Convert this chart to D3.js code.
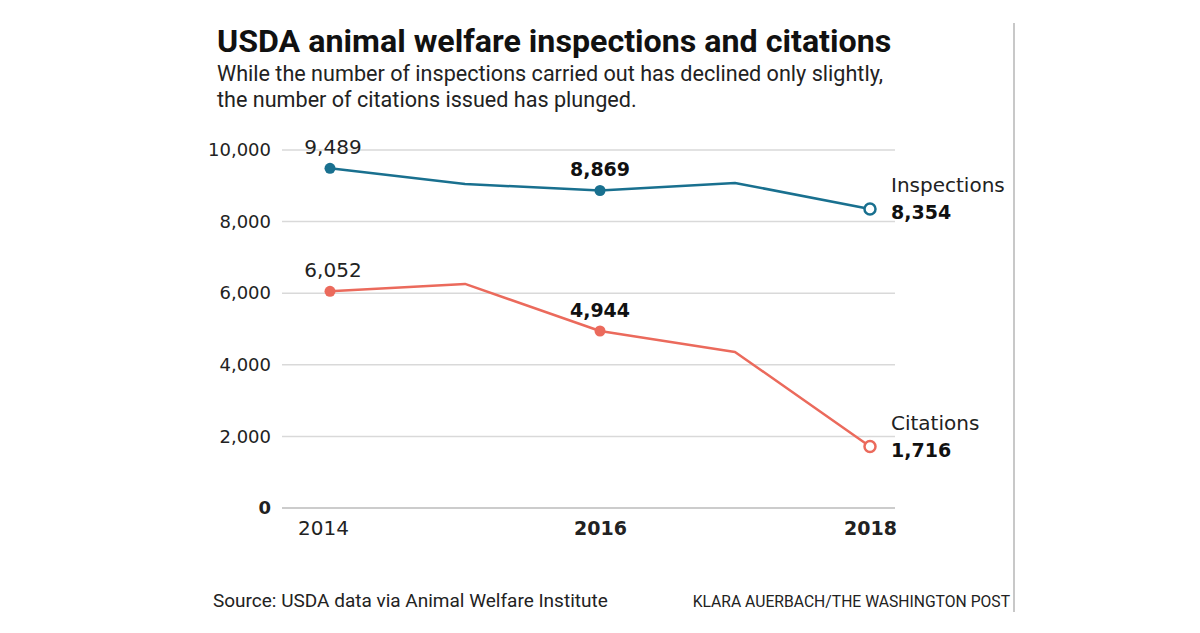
<!DOCTYPE html>
<html><head><meta charset="utf-8">
<script src="https://cdn.jsdelivr.net/npm/d3@7"></script>
<style>
html,body{margin:0;padding:0;background:#fff;}
svg{display:block;}
</style></head>
<body>
<script>
const years = [2014, 2015, 2016, 2017, 2018];
const inspections = [9489, 9050, 8869, 9080, 8354];
const citations = [6052, 6260, 4944, 4360, 1716];
const yTicks = [0, 2000, 4000, 6000, 8000, 10000];
const xTicks = [2014, 2016, 2018];
const seriesNames = ["Inspections", "Citations"];
const colors = ["#19708f", "#eb6a5c"];

const W = 1200, H = 633;
const svg = d3.select("body").append("svg").attr("width", W).attr("height", H);

const x = d3.scaleLinear().domain([2014, 2018]).range([330, 870]);
const y = d3.scaleLinear().domain([0, 10000]).range([508, 150]);

const head = "Roboto,'Liberation Sans',sans-serif";
const sans = "'DejaVu Sans',Verdana,sans-serif";

// title
svg.append("text").attr("x", 217).attr("y", 52).attr("font-family", head).attr("font-weight", "bold")
  .attr("font-size", 32.2).attr("fill", "#111").text("USDA animal welfare inspections and citations");
svg.append("text").attr("x", 217).attr("y", 81).attr("font-family", head)
  .attr("font-size", 21.6).attr("fill", "#222").text("While the number of inspections carried out has declined only slightly,");
svg.append("text").attr("x", 217).attr("y", 107).attr("font-family", head)
  .attr("font-size", 21.6).attr("fill", "#222").text("the number of citations issued has plunged.");

// grid
svg.append("g").selectAll("line").data(yTicks).join("line")
  .attr("x1", 282).attr("x2", 895)
  .attr("y1", d => y(d)).attr("y2", d => y(d))
  .attr("stroke", d => d === 0 ? "#bbb" : "#d9d9d9").attr("stroke-width", 1.5);

// y axis labels
const yAxis = d3.axisLeft(y).tickValues(yTicks).tickSize(0).tickPadding(0).tickFormat(d3.format(","));
const ya = svg.append("g").attr("transform", "translate(271,0)").call(yAxis);
ya.select(".domain").remove();
ya.selectAll("text").attr("font-family", sans).attr("font-size", 18).attr("fill", "#222")
  .attr("font-weight", d => d === 0 ? "bold" : "normal");

// x axis labels
const xAxis = d3.axisBottom(x).tickValues(xTicks).tickSize(0).tickPadding(0).tickFormat(d3.format("d"));
const xa = svg.append("g").attr("transform", "translate(0,521)").call(xAxis);
xa.select(".domain").remove();
xa.selectAll("text").attr("font-family", sans).attr("fill", "#222")
  .attr("font-size", d => d === 2014 ? 20 : 19)
  .attr("dx", d => d === 2014 ? -7 : 0)
  .attr("font-weight", d => d === 2014 ? "normal" : "bold");

const series = [inspections, citations];
const line = d3.line().x((d, i) => x(years[i])).y(d => y(d));
series.forEach((vals, si) => {
  svg.append("path").datum(vals).attr("d", line).attr("fill", "none")
    .attr("stroke", colors[si]).attr("stroke-width", 2.5).attr("stroke-linejoin", "round");
  [0, 2].forEach(i => {
    svg.append("circle").attr("cx", x(years[i])).attr("cy", y(vals[i])).attr("r", 5.5).attr("fill", colors[si]);
  });
  svg.append("circle").attr("cx", x(years[4])).attr("cy", y(vals[4])).attr("r", 5.5)
    .attr("fill", "#fff").attr("stroke", colors[si]).attr("stroke-width", 2.5);
  // labels
  svg.append("text").attr("x", x(years[0]) + 3).attr("y", y(vals[0]) - 14).attr("text-anchor", "middle")
    .attr("font-family", sans).attr("font-size", 20).attr("fill", "#222").text(d3.format(",")(vals[0]));
  svg.append("text").attr("x", x(years[2])).attr("y", y(vals[2]) - 14).attr("text-anchor", "middle")
    .attr("font-family", sans).attr("font-weight", "bold").attr("font-size", 19).attr("fill", "#111").text(d3.format(",")(vals[2]));
  svg.append("text").attr("x", 891).attr("y", y(vals[4]) - 17)
    .attr("font-family", sans).attr("font-size", 20).attr("fill", "#222").text(seriesNames[si]);
  svg.append("text").attr("x", 891).attr("y", y(vals[4]) + 10)
    .attr("font-family", sans).attr("font-weight", "bold").attr("font-size", 19).attr("fill", "#111").text(d3.format(",")(vals[4]));
});

// footer
svg.append("text").attr("x", 213).attr("y", 607).attr("font-family", head).attr("font-size", 19)
  .attr("fill", "#222").text("Source: USDA data via Animal Welfare Institute");
svg.append("text").attr("x", 1010).attr("y", 607).attr("text-anchor", "end").attr("font-family", head).attr("font-size", 15.7)
  .attr("fill", "#222").text("KLARA AUERBACH/THE WASHINGTON POST");

// right border
svg.append("line").attr("x1", 1014).attr("x2", 1014).attr("y1", 23).attr("y2", 612)
  .attr("stroke", "#c8c8c8").attr("stroke-width", 2);
</script>
</body></html>
